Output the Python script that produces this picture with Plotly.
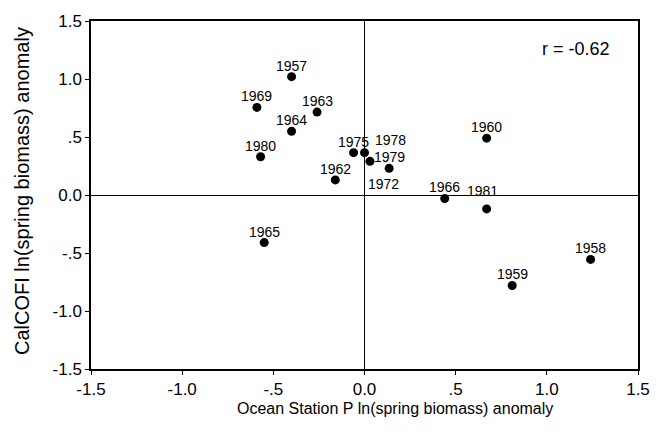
import plotly.graph_objects as go

# Spring biomass anomalies by year
years = ["1957", "1969", "1963", "1964", "1980", "1975", "1978", "1979",
         "1972", "1962", "1960", "1966", "1981", "1958", "1959", "1965"]
ocean_station_p = [-0.40, -0.59, -0.26, -0.40, -0.57, -0.06, 0.00, 0.135,
                   0.03, -0.16, 0.67, 0.44, 0.67, 1.24, 0.81, -0.55]
calcofi = [1.02, 0.755, 0.715, 0.55, 0.33, 0.365, 0.365, 0.23,
           0.29, 0.13, 0.49, -0.03, -0.12, -0.555, -0.78, -0.41]
r_value = -0.62

tick_vals = [-1.5, -1.0, -0.5, 0.0, 0.5, 1.0, 1.5]
tick_text = ["-1.5", "-1.0", "-.5", "0.0", ".5", "1.0", "1.5"]

FONT = "Liberation Sans, Arial, Helvetica, sans-serif"

# label nudges (pixels) for crowded points; others sit just above the dot
nudge = {"1978": (26, 13), "1972": (14, -23), "1981": (-4, 18)}

fig = go.Figure()
fig.add_trace(go.Scatter(
    x=ocean_station_p, y=calcofi, mode="markers",
    marker=dict(color="black", size=9),
    hoverinfo="skip", showlegend=False,
))

annotations = []
for yr, xv, yv in zip(years, ocean_station_p, calcofi):
    dx, dy = nudge.get(yr, (0, 11))
    annotations.append(dict(
        x=xv, y=yv, xref="x", yref="y", text=yr, showarrow=False,
        xanchor="center", yanchor="middle", xshift=dx, yshift=dy,
        font=dict(family=FONT, size=14, color="black"),
    ))

annotations.append(dict(
    x=1, y=1, xref="paper", yref="paper", text=f"r = {r_value:.2f}",
    showarrow=False, xanchor="center", yanchor="middle",
    xshift=-62, yshift=-28, font=dict(family=FONT, size=18, color="black"),
))
annotations.append(dict(
    x=0.5, y=0, xref="paper", yref="paper",
    text="Ocean Station P ln(spring biomass) anomaly",
    showarrow=False, xanchor="center", yanchor="middle",
    xshift=30, yshift=-39,
    font=dict(family=FONT, size=16, color="black"),
))
annotations.append(dict(
    x=0, y=0.5, xref="paper", yref="paper",
    text="CalCOFI ln(spring biomass) anomaly", textangle=-90,
    showarrow=False, xanchor="center", yanchor="middle",
    xshift=-69, yshift=4,
    font=dict(family=FONT, size=20, color="black"),
))

axis_common = dict(
    range=[-1.5, 1.5], tickvals=tick_vals, ticktext=tick_text,
    showgrid=False, zeroline=True, zerolinecolor="black", zerolinewidth=1,
    showline=True, linecolor="black", linewidth=1.5, mirror=True,
    ticks="outside", ticklen=4, tickcolor="black",
    tickfont=dict(family=FONT, size=17, color="black"),
)

fig.update_layout(
    width=663, height=438,
    margin=dict(l=91, r=25, t=14, b=69),
    plot_bgcolor="white", paper_bgcolor="white",
    xaxis=axis_common, yaxis=axis_common,
    annotations=annotations,
)

fig.write_html("out.html")
